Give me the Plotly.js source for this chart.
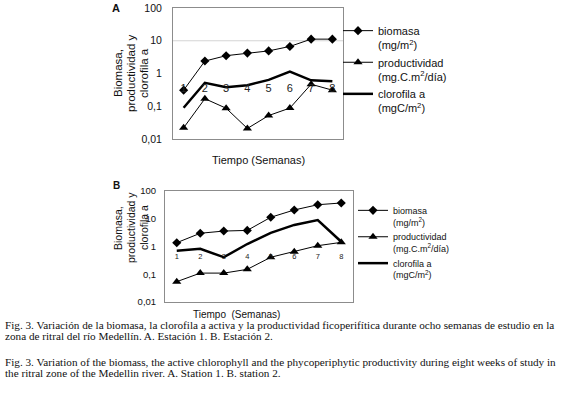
<!DOCTYPE html>
<html>
<head>
<meta charset="utf-8">
<script src="https://cdn.plot.ly/plotly-3.0.1.min.js"></script>
<style>
  body { margin: 0; background: #fff; }
  #graph { width: 561px; height: 395px; }
</style>
</head>
<body>
<div id="graph"></div>
<script>
// semanas de muestreo
const semanas = [1, 2, 3, 4, 5, 6, 7, 8];

// A. Estación 1
const biomasaA = [0.31, 2.4, 3.5, 4.2, 4.9, 6.7, 11.2, 11.2];
const productividadA = [0.022, 0.17, 0.087, 0.021, 0.052, 0.088, 0.47, 0.31];
const clorofilaA = [0.09, 0.52, 0.38, 0.44, 0.64, 1.15, 0.62, 0.58];

// B. Estación 2
const biomasaB = [1.37, 3.0, 3.6, 3.8, 11.3, 20.7, 32, 37];
const productividadB = [0.054, 0.11, 0.11, 0.15, 0.41, 0.65, 1.07, 1.41];
const clorofilaB = [0.71, 0.83, 0.41, 1.23, 3.1, 6.0, 9.0, 1.48];

const nombres = ['biomasa<br>(mg/m<sup>2</sup>)', 'productividad<br>(mg.C.m<sup>2</sup>/día)', 'clorofila a<br>(mgC/m<sup>2</sup>)'];
const yTicks = [0.01, 0.1, 1, 10, 100];
const yTickText = ['0,01', '0,1', '1', '10', '100'];
const yTitulo = ['Biomasa,', 'productividad y', 'clorofila a'];
const semanaLabelA = 0.34, semanaLabelB = 0.4;

const W = 561, H = 395;
const px = x => x / W;
const py = y => 1 - y / H;

function series(ax, legend, vals) {
    const [bio, prod, clo] = vals;
    return [
        { x: semanas, y: bio, xaxis: ax[0], yaxis: ax[1], legend: legend, name: nombres[0],
          mode: 'lines+markers', line: { color: '#000', width: 1 },
          marker: { symbol: 'diamond', size: 7, color: '#000' } },
        { x: semanas, y: prod, xaxis: ax[0], yaxis: ax[1], legend: legend, name: nombres[1],
          mode: 'lines+markers', line: { color: '#000', width: 1 },
          marker: { symbol: 'triangle-up', size: 8, color: '#000' } },
        { x: semanas, y: clo, xaxis: ax[0], yaxis: ax[1], legend: legend, name: nombres[2],
          mode: 'lines', line: { color: '#000', width: 2.5 } }
    ];
}

const data = [
    ...series(['x', 'y'], 'legend', [biomasaA, productividadA, clorofilaA]),
    ...series(['x2', 'y2'], 'legend2', [biomasaB, productividadB, clorofilaB]),
    { x: semanas, y: semanas.map(() => semanaLabelA), text: semanas.map(String), mode: 'text',
      xaxis: 'x', yaxis: 'y', showlegend: false, hoverinfo: 'skip',
      textfont: { size: 11, color: '#222' } },
    { x: semanas, y: semanas.map(() => semanaLabelB), text: semanas.map(String), mode: 'text',
      xaxis: 'x2', yaxis: 'y2', showlegend: false, hoverinfo: 'skip',
      textfont: { size: 7.5, color: '#222' } }
];

const xBase = {
    range: [0.5, 8.5], showticklabels: false, ticks: '', showgrid: false, zeroline: false,
    showline: true, mirror: true, linecolor: '#8c8c8c', linewidth: 1, fixedrange: true
};
const yBase = {
    type: 'log', range: [-2, 2], tickvals: yTicks, ticktext: yTickText,
    showgrid: false, zeroline: false, showline: true, mirror: true,
    linecolor: '#8c8c8c', linewidth: 1, ticks: 'outside', tickcolor: 'rgba(0,0,0,0)',
    fixedrange: true
};

const fontTxt = 'Arial, "Liberation Sans", sans-serif';
const fontSerif = '"Liberation Serif", "Times New Roman", serif';

function ann(text, x, y, size, extra) {
    return Object.assign({
        text: text, x: px(x), y: py(y), xref: 'paper', yref: 'paper',
        showarrow: false, xanchor: 'center', yanchor: 'middle',
        font: { family: fontTxt, size: size, color: '#111' }
    }, extra || {});
}

const caption = [
    'Fig. 3. Variación de la biomasa, la clorofila a activa y la productividad ficoperifítica durante ocho semanas de estudio en la',
    'zona de ritral del río Medellín. A. Estación 1. B. Estación 2.',
    'Fig. 3. Variation of the biomass, the active chlorophyll and the phycoperiphytic productivity during eight weeks of study in',
    'the ritral zone of the Medellin river. A. Station 1. B. station 2.'
];
const captionY = [325, 336, 362, 373];

const layout = {
    width: W, height: H,
    margin: { l: 0, r: 0, t: 0, b: 0 },
    paper_bgcolor: '#fff', plot_bgcolor: '#fff',
    font: { family: fontTxt, color: '#111' },
    xaxis: Object.assign({}, xBase, { domain: [px(173), px(343)], anchor: 'y' }),
    yaxis: Object.assign({}, yBase, { domain: [py(139), py(8)], anchor: 'x', ticklen: 8,
        tickfont: { size: 10.5, color: '#111' } }),
    xaxis2: Object.assign({}, xBase, { domain: [px(165), px(353)], anchor: 'y2' }),
    yaxis2: Object.assign({}, yBase, { domain: [py(302), py(191)], anchor: 'x2', ticklen: 6,
        tickfont: { size: 9.5, color: '#111' } }),
    legend: {
        x: px(338), y: py(17), xanchor: 'left', yanchor: 'top', valign: 'top',
        font: { size: 11, color: '#111' }, bgcolor: 'rgba(0,0,0,0)', itemclick: false
    },
    legend2: {
        x: px(353), y: py(198), xanchor: 'left', yanchor: 'top', valign: 'top',
        font: { size: 9, color: '#111' }, bgcolor: 'rgba(0,0,0,0)', itemclick: false
    },
    shapes: [
        { type: 'line', xref: 'x domain', yref: 'y', x0: 0, x1: 1, y0: 10, y1: 10,
          line: { color: '#d4d4d4', width: 1 }, layer: 'below' }
    ],
    annotations: [
        ann('<b>A</b>', 116, 8, 11),
        ann('<b>B</b>', 116, 185, 10),
        ...yTitulo.map((t, i) => ann(t, 118 + i * 13, 73, 11.5, { textangle: -90 })),
        ...yTitulo.map((t, i) => ann(t, 118 + i * 13, 228, 10.5, { textangle: -90 })),
        ann('Tiempo (Semanas)', 258, 160, 11),
        ann('Tiempo  (Semanas)', 236, 314, 10),
        ...caption.map((t, i) => ann(t, 3, captionY[i], 11.2, {
            xanchor: 'left', font: { family: fontSerif, size: 11.2, color: '#111' }
        }))
    ]
};

Plotly.newPlot('graph', data, layout, { displayModeBar: false, staticPlot: true });
</script>
</body>
</html>
